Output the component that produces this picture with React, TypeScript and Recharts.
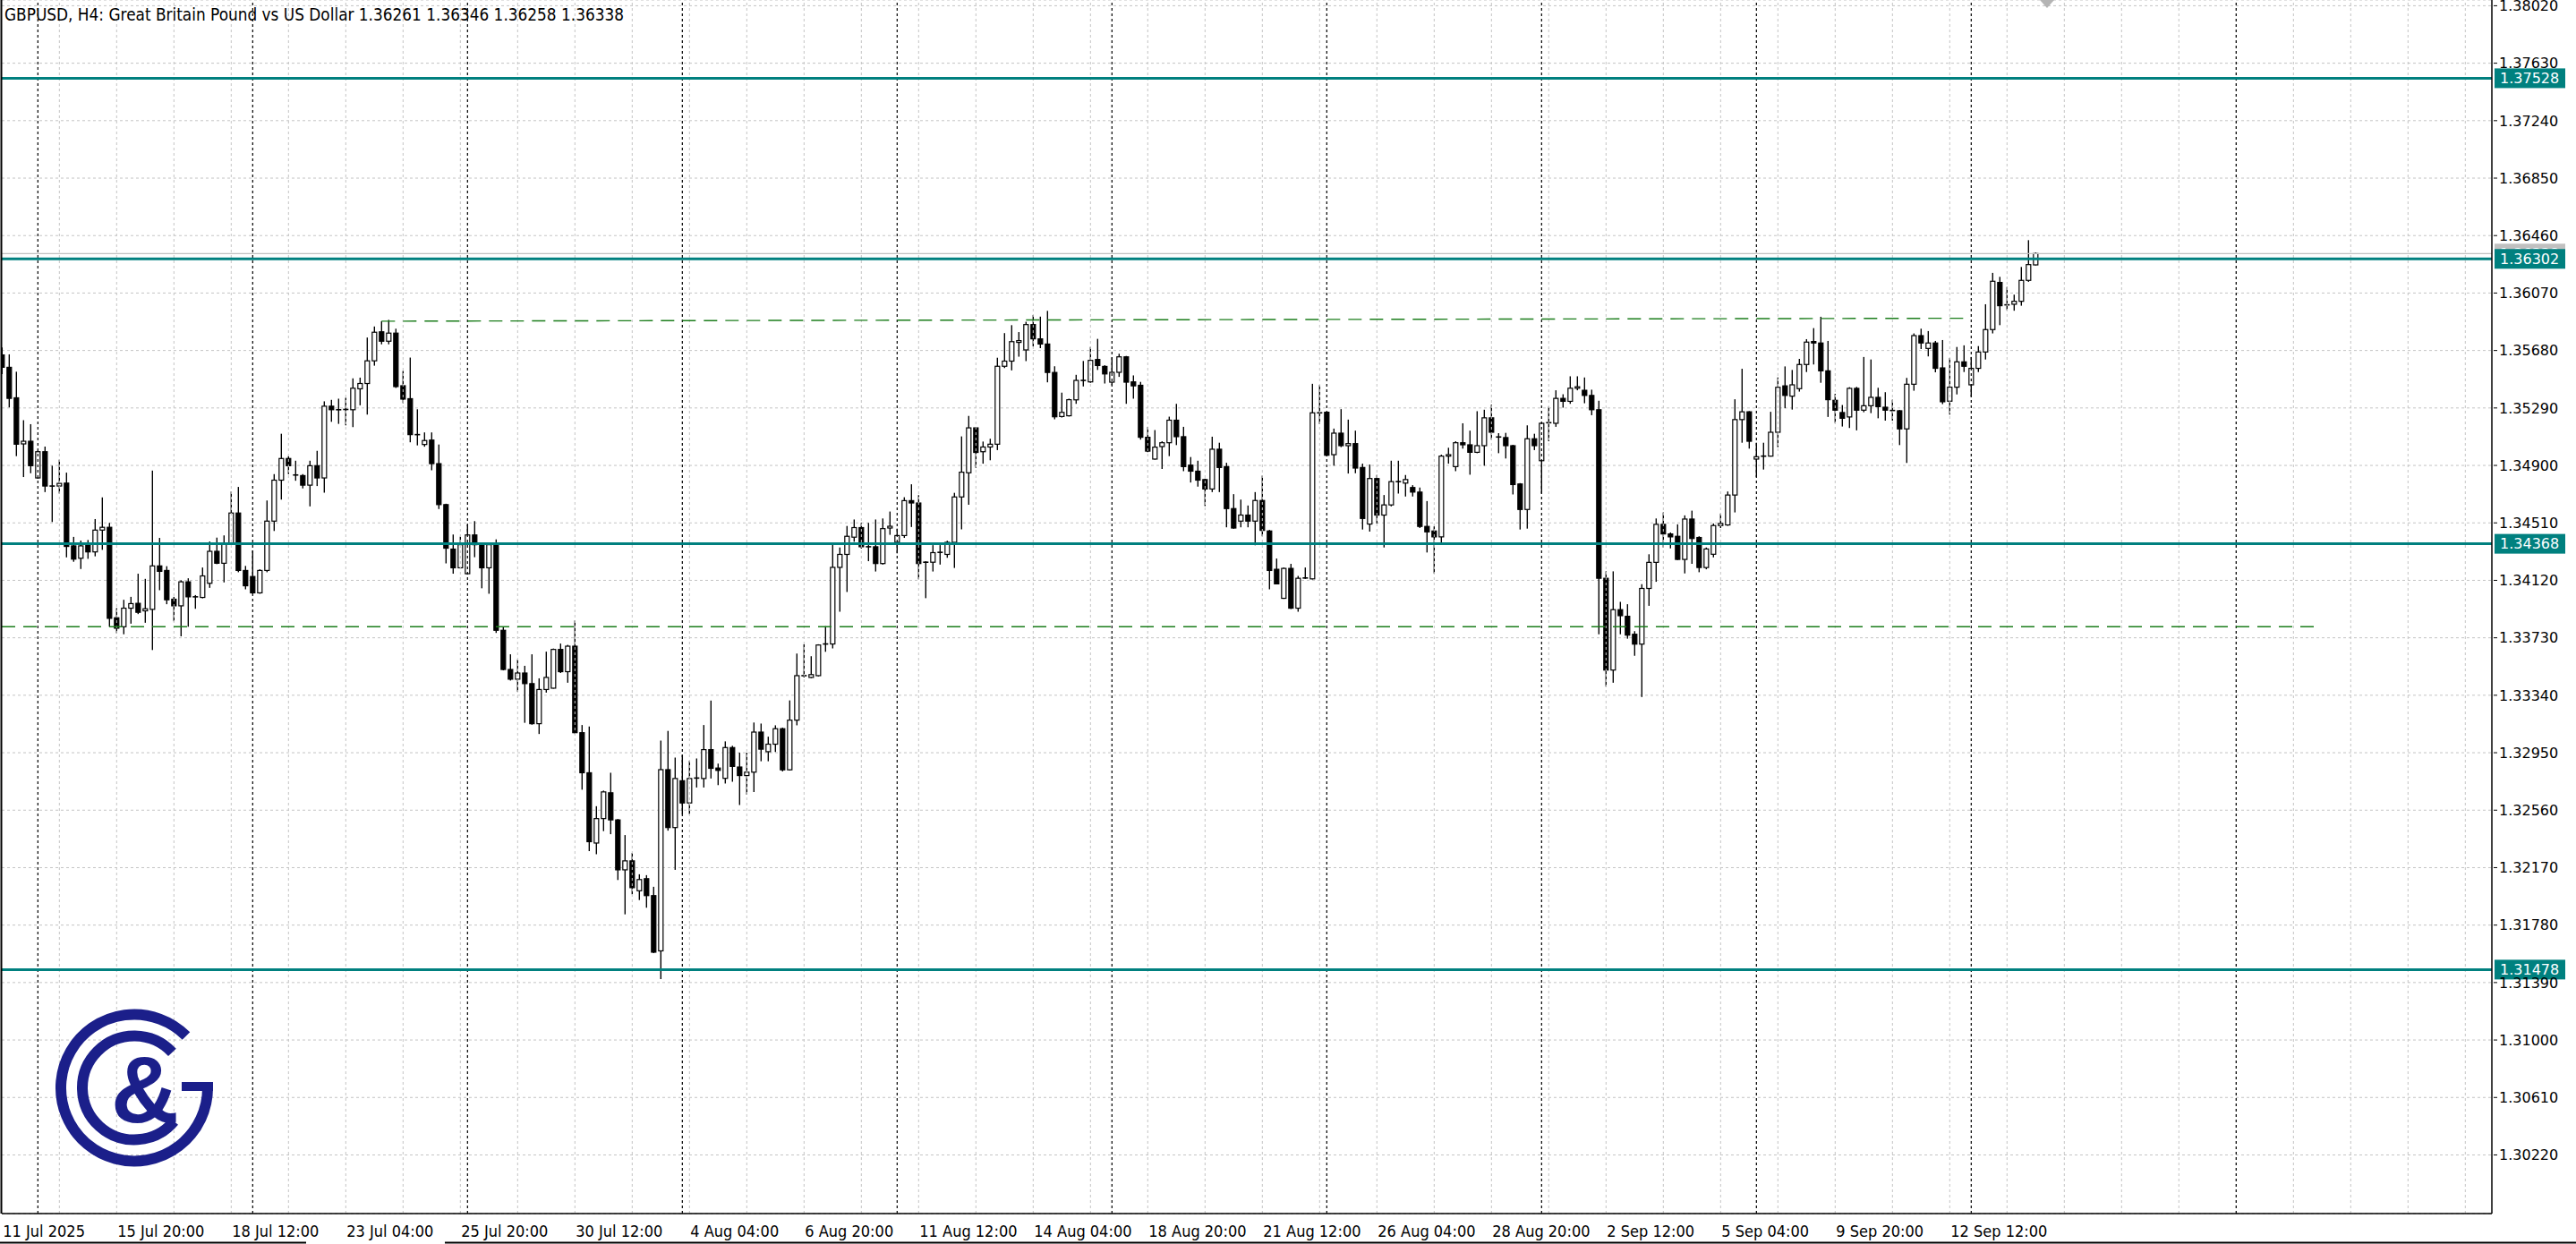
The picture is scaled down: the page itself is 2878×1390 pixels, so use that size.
import React from "react";
import { ComposedChart, Bar, XAxis, YAxis, CartesianGrid, ReferenceLine } from "recharts";

// GBPUSD H4, 11 Jul 2025 04:00 .. 16 Sep 2025 00:00
const OPEN = [
  1.35650, 1.35566, 1.35359, 1.35046, 1.35064, 1.34815, 1.34993, 1.34760, 1.34760, 1.34780,
  1.34354, 1.34270, 1.34362, 1.34313, 1.34461, 1.34480, 1.33866, 1.33805, 1.33931, 1.33964,
  1.33913, 1.33923, 1.34218, 1.34187, 1.33992, 1.33947, 1.34110, 1.34008, 1.34004, 1.34100,
  1.34317, 1.34236, 1.34364, 1.34577, 1.34187, 1.34146, 1.34035, 1.34187, 1.34522, 1.34800,
  1.34947, 1.34835, 1.34831, 1.34766, 1.34898, 1.34815, 1.35302, 1.35278, 1.35276, 1.35278,
  1.35420, 1.35456, 1.35610, 1.35807, 1.35743, 1.35798, 1.35441, 1.35353, 1.35109, 1.35042,
  1.35072, 1.34912, 1.34634, 1.34332, 1.34205, 1.34165, 1.34428, 1.34362, 1.34205, 1.34368,
  1.33781, 1.33515, 1.33449, 1.33491, 1.33419, 1.33147, 1.33379, 1.33388, 1.33651, 1.33500,
  1.33673, 1.33086, 1.32814, 1.32337, 1.32503, 1.32678, 1.32494, 1.32155, 1.32216, 1.32013,
  1.32095, 1.31980, 1.31605, 1.32835, 1.32442, 1.32760, 1.32609, 1.32775, 1.32775, 1.32971,
  1.32846, 1.32776, 1.32985, 1.32853, 1.32795, 1.32818, 1.33090, 1.32957, 1.33008, 1.33113,
  1.32834, 1.33171, 1.33473, 1.33461, 1.33473, 1.33681, 1.33688, 1.34208, 1.34296, 1.34413,
  1.34478, 1.34348, 1.34348, 1.34234, 1.34475, 1.34378, 1.34424, 1.34661, 1.34645, 1.34234,
  1.34243, 1.34308, 1.34296, 1.34378, 1.34686, 1.34850, 1.35155, 1.34993, 1.35025, 1.35044,
  1.35573, 1.35608, 1.35735, 1.35684, 1.35856, 1.35759, 1.35724, 1.35531, 1.35232, 1.35237,
  1.35345, 1.35477, 1.35467, 1.35619, 1.35572, 1.35465, 1.35532, 1.35637, 1.35467, 1.35444,
  1.35091, 1.34943, 1.35028, 1.35054, 1.35207, 1.35095, 1.34902, 1.34861, 1.34804, 1.34740,
  1.35010, 1.34892, 1.34607, 1.34522, 1.34563, 1.34522, 1.34662, 1.34455, 1.34195, 1.33998,
  1.34201, 1.33931, 1.34134, 1.34130, 1.35257, 1.35261, 1.34973, 1.35119, 1.35034, 1.35048,
  1.34886, 1.34502, 1.34811, 1.34563, 1.34632, 1.34790, 1.34780, 1.34750, 1.34719, 1.34486,
  1.34455, 1.34415, 1.34963, 1.34892, 1.35054, 1.35040, 1.34989, 1.35034, 1.35223, 1.35093,
  1.35089, 1.35034, 1.34774, 1.34601, 1.35081, 1.34932, 1.35186, 1.35186, 1.35355, 1.35335,
  1.35424, 1.35410, 1.35375, 1.35278, 1.34134, 1.33511, 1.33921, 1.33876, 1.33754, 1.33687,
  1.34065, 1.34242, 1.34500, 1.34435, 1.34419, 1.34262, 1.34536, 1.34411, 1.34207, 1.34297,
  1.34492, 1.34496, 1.34699, 1.35211, 1.35264, 1.34943, 1.34959, 1.34963, 1.35125, 1.35440,
  1.35370, 1.35421, 1.35585, 1.35741, 1.35731, 1.35542, 1.35342, 1.35259, 1.35229, 1.35423,
  1.35275, 1.35305, 1.35362, 1.35295, 1.35273, 1.35271, 1.35148, 1.35451, 1.35781, 1.35694,
  1.35731, 1.35562, 1.35336, 1.35431, 1.35603, 1.35447, 1.35559, 1.35670, 1.35822, 1.36142,
  1.35990, 1.35994, 1.36014, 1.36156, 1.36261,
];
const HIGH = [
  1.35700, 1.35654, 1.35536, 1.35207, 1.35180, 1.35000, 1.35028, 1.34898, 1.34939, 1.34851,
  1.34415, 1.34390, 1.34394, 1.34536, 1.34683, 1.34510, 1.33931, 1.33988, 1.34008, 1.34165,
  1.34130, 1.34865, 1.34408, 1.34216, 1.34008, 1.34120, 1.34134, 1.34020, 1.34207, 1.34384,
  1.34410, 1.34425, 1.34723, 1.34754, 1.34218, 1.34323, 1.34195, 1.34662, 1.34841, 1.35115,
  1.34963, 1.34932, 1.34841, 1.34932, 1.34999, 1.35335, 1.35345, 1.35353, 1.35359, 1.35491,
  1.35496, 1.35768, 1.35843, 1.35879, 1.35888, 1.35828, 1.35541, 1.35632, 1.35281, 1.35124,
  1.35124, 1.35042, 1.34640, 1.34431, 1.34416, 1.34498, 1.34522, 1.34377, 1.34377, 1.34398,
  1.33803, 1.33618, 1.33582, 1.33540, 1.33618, 1.33455, 1.33636, 1.33657, 1.33691, 1.33682,
  1.33848, 1.33138, 1.33128, 1.32587, 1.32693, 1.32814, 1.32500, 1.32391, 1.32270, 1.32125,
  1.32119, 1.32040, 1.33032, 1.33098, 1.32917, 1.32935, 1.32896, 1.32911, 1.33138, 1.33304,
  1.32876, 1.33027, 1.32997, 1.32950, 1.32950, 1.33155, 1.33148, 1.33059, 1.33136, 1.33120,
  1.33305, 1.33623, 1.33686, 1.33605, 1.33686, 1.33809, 1.34366, 1.34343, 1.34489, 1.34533,
  1.34510, 1.34510, 1.34533, 1.34540, 1.34587, 1.34471, 1.34684, 1.34772, 1.34698, 1.34250,
  1.34359, 1.34359, 1.34389, 1.34714, 1.35097, 1.35236, 1.35160, 1.35062, 1.35081, 1.35631,
  1.35798, 1.35852, 1.35805, 1.35875, 1.35921, 1.35910, 1.35949, 1.35573, 1.35394, 1.35353,
  1.35515, 1.35609, 1.35704, 1.35759, 1.35580, 1.35633, 1.35658, 1.35643, 1.35511, 1.35467,
  1.35162, 1.35140, 1.35064, 1.35231, 1.35318, 1.35162, 1.34957, 1.34932, 1.34810, 1.35095,
  1.35054, 1.34918, 1.34705, 1.34668, 1.34628, 1.34719, 1.34831, 1.34462, 1.34268, 1.34207,
  1.34232, 1.34150, 1.34207, 1.35454, 1.35446, 1.35265, 1.35150, 1.35282, 1.35211, 1.35136,
  1.34912, 1.34906, 1.34835, 1.34699, 1.34932, 1.34932, 1.34835, 1.34766, 1.34750, 1.34658,
  1.34486, 1.34973, 1.35020, 1.35064, 1.35186, 1.35136, 1.35268, 1.35278, 1.35312, 1.35119,
  1.35121, 1.35040, 1.34780, 1.35172, 1.35115, 1.35190, 1.35298, 1.35410, 1.35383, 1.35505,
  1.35505, 1.35497, 1.35414, 1.35339, 1.34181, 1.34181, 1.33974, 1.33958, 1.33775, 1.34094,
  1.34297, 1.34540, 1.34581, 1.34445, 1.34500, 1.34561, 1.34593, 1.34419, 1.34343, 1.34506,
  1.34573, 1.34723, 1.35349, 1.35556, 1.35268, 1.35054, 1.35054, 1.35264, 1.35497, 1.35572,
  1.35548, 1.35623, 1.35757, 1.35832, 1.35909, 1.35745, 1.35386, 1.35310, 1.35431, 1.35433,
  1.35636, 1.35619, 1.35427, 1.35397, 1.35346, 1.35276, 1.35494, 1.35796, 1.35828, 1.35812,
  1.35745, 1.35751, 1.35629, 1.35704, 1.35715, 1.35636, 1.35710, 1.35994, 1.36207, 1.36180,
  1.36111, 1.36059, 1.36247, 1.36429, 1.36346,
];
const LOW = [
  1.35520, 1.35294, 1.34963, 1.34821, 1.34847, 1.34810, 1.34719, 1.34516, 1.34709, 1.34276,
  1.34246, 1.34197, 1.34266, 1.34283, 1.34327, 1.33805, 1.33761, 1.33754, 1.33826, 1.33891,
  1.33832, 1.33647, 1.34053, 1.33958, 1.33842, 1.33740, 1.33805, 1.33927, 1.33998, 1.34069,
  1.34230, 1.34106, 1.34360, 1.34175, 1.34059, 1.34029, 1.34029, 1.34175, 1.34455, 1.34668,
  1.34841, 1.34796, 1.34744, 1.34622, 1.34760, 1.34715, 1.35196, 1.35182, 1.35172, 1.35160,
  1.35308, 1.35245, 1.35577, 1.35722, 1.35722, 1.35426, 1.35323, 1.35057, 1.35036, 1.35027,
  1.34867, 1.34604, 1.34235, 1.34165, 1.34202, 1.34160, 1.34277, 1.34066, 1.34029, 1.33763,
  1.33509, 1.33440, 1.33364, 1.33153, 1.33140, 1.33077, 1.33358, 1.33385, 1.33491, 1.33425,
  1.33077, 1.32699, 1.32282, 1.32261, 1.32418, 1.32397, 1.32086, 1.31853, 1.31989, 1.31950,
  1.31898, 1.31590, 1.31414, 1.32421, 1.32155, 1.32533, 1.32533, 1.32714, 1.32714, 1.32775,
  1.32730, 1.32741, 1.32753, 1.32595, 1.32665, 1.32683, 1.32892, 1.32892, 1.32955, 1.32823,
  1.32830, 1.33136, 1.33461, 1.33456, 1.33468, 1.33635, 1.33658, 1.33907, 1.34041, 1.34382,
  1.34336, 1.34250, 1.34180, 1.34227, 1.34429, 1.34303, 1.34408, 1.34482, 1.34127, 1.33999,
  1.34180, 1.34227, 1.34273, 1.34204, 1.34466, 1.34633, 1.34884, 1.34912, 1.34935, 1.35004,
  1.35561, 1.35545, 1.35638, 1.35608, 1.35708, 1.35696, 1.35464, 1.35213, 1.35225, 1.35232,
  1.35318, 1.35436, 1.35461, 1.35548, 1.35456, 1.35444, 1.35501, 1.35318, 1.35353, 1.35075,
  1.34990, 1.34939, 1.34876, 1.34963, 1.35038, 1.34861, 1.34784, 1.34756, 1.34624, 1.34719,
  1.34719, 1.34480, 1.34470, 1.34480, 1.34480, 1.34358, 1.34419, 1.34059, 1.34094, 1.33994,
  1.33925, 1.33907, 1.34130, 1.34126, 1.35180, 1.34963, 1.34898, 1.35024, 1.34845, 1.34847,
  1.34465, 1.34451, 1.34506, 1.34343, 1.34622, 1.34709, 1.34689, 1.34689, 1.34475, 1.34309,
  1.34167, 1.34378, 1.34912, 1.34861, 1.35014, 1.34837, 1.34983, 1.34898, 1.35075, 1.34983,
  1.34947, 1.34703, 1.34465, 1.34471, 1.35004, 1.34709, 1.35064, 1.35162, 1.35292, 1.35318,
  1.35410, 1.35322, 1.35241, 1.33754, 1.33399, 1.33425, 1.33754, 1.33724, 1.33608, 1.33328,
  1.33947, 1.34110, 1.34343, 1.34337, 1.34258, 1.34167, 1.34232, 1.34175, 1.34195, 1.34276,
  1.34475, 1.34490, 1.34581, 1.35054, 1.35014, 1.34821, 1.34872, 1.34960, 1.35024, 1.35288,
  1.35279, 1.35401, 1.35534, 1.35585, 1.35461, 1.35229, 1.35188, 1.35164, 1.35154, 1.35138,
  1.35261, 1.35255, 1.35220, 1.35204, 1.35204, 1.35038, 1.34917, 1.35407, 1.35690, 1.35640,
  1.35532, 1.35316, 1.35245, 1.35382, 1.35534, 1.35366, 1.35534, 1.35619, 1.35796, 1.35852,
  1.35954, 1.35950, 1.35984, 1.36146, 1.36258,
];
const CLOSE = [
  1.35566, 1.35355, 1.35044, 1.35064, 1.34898, 1.34993, 1.34760, 1.34758, 1.34778, 1.34350,
  1.34264, 1.34354, 1.34313, 1.34461, 1.34480, 1.33862, 1.33795, 1.33931, 1.33962, 1.33903,
  1.33927, 1.34218, 1.34181, 1.33988, 1.33947, 1.34110, 1.34008, 1.34004, 1.34150, 1.34317,
  1.34236, 1.34364, 1.34577, 1.34187, 1.34083, 1.34035, 1.34187, 1.34522, 1.34800, 1.34947,
  1.34898, 1.34829, 1.34766, 1.34898, 1.34815, 1.35302, 1.35278, 1.35276, 1.35280, 1.35424,
  1.35456, 1.35610, 1.35804, 1.35743, 1.35798, 1.35435, 1.35350, 1.35109, 1.35106, 1.35069,
  1.34912, 1.34634, 1.34338, 1.34205, 1.34362, 1.34428, 1.34362, 1.34205, 1.34362, 1.33781,
  1.33515, 1.33449, 1.33491, 1.33419, 1.33147, 1.33379, 1.33461, 1.33651, 1.33500, 1.33673,
  1.33086, 1.32814, 1.32346, 1.32503, 1.32684, 1.32494, 1.32155, 1.32216, 1.32034, 1.32089,
  1.31980, 1.31596, 1.32835, 1.32442, 1.32775, 1.32609, 1.32775, 1.32778, 1.32971, 1.32844,
  1.32830, 1.32985, 1.32857, 1.32795, 1.32818, 1.33090, 1.32974, 1.33008, 1.33113, 1.32834,
  1.33171, 1.33473, 1.33468, 1.33480, 1.33681, 1.33688, 1.34208, 1.34296, 1.34419, 1.34478,
  1.34348, 1.34345, 1.34234, 1.34471, 1.34487, 1.34424, 1.34661, 1.34645, 1.34234, 1.34243,
  1.34308, 1.34310, 1.34378, 1.34686, 1.34854, 1.35155, 1.34988, 1.35025, 1.35044, 1.35573,
  1.35608, 1.35740, 1.35747, 1.35856, 1.35759, 1.35724, 1.35531, 1.35230, 1.35260, 1.35346,
  1.35477, 1.35473, 1.35613, 1.35578, 1.35521, 1.35532, 1.35637, 1.35465, 1.35440, 1.35091,
  1.34997, 1.35024, 1.35054, 1.35207, 1.35095, 1.34892, 1.34861, 1.34800, 1.34740, 1.35010,
  1.34886, 1.34607, 1.34475, 1.34563, 1.34522, 1.34662, 1.34459, 1.34187, 1.34096, 1.34201,
  1.33931, 1.34134, 1.34136, 1.35257, 1.35253, 1.34969, 1.35119, 1.35034, 1.35048, 1.34882,
  1.34540, 1.34811, 1.34563, 1.34632, 1.34790, 1.34784, 1.34804, 1.34719, 1.34486, 1.34449,
  1.34415, 1.34963, 1.34973, 1.35054, 1.35040, 1.34989, 1.35034, 1.35223, 1.35125, 1.35091,
  1.35034, 1.34770, 1.34601, 1.35081, 1.35034, 1.35186, 1.35190, 1.35355, 1.35335, 1.35424,
  1.35434, 1.35375, 1.35278, 1.34134, 1.33511, 1.33921, 1.33880, 1.33748, 1.33687, 1.34065,
  1.34242, 1.34500, 1.34435, 1.34415, 1.34262, 1.34536, 1.34404, 1.34207, 1.34333, 1.34492,
  1.34506, 1.34699, 1.35211, 1.35264, 1.35064, 1.34959, 1.34963, 1.35125, 1.35430, 1.35375,
  1.35447, 1.35585, 1.35737, 1.35731, 1.35542, 1.35346, 1.35275, 1.35220, 1.35423, 1.35275,
  1.35305, 1.35362, 1.35299, 1.35275, 1.35271, 1.35148, 1.35451, 1.35781, 1.35731, 1.35731,
  1.35559, 1.35332, 1.35431, 1.35603, 1.35573, 1.35559, 1.35670, 1.35822, 1.36150, 1.35984,
  1.35988, 1.36014, 1.36156, 1.36263, 1.36338,
];

// time scale labels, one every 16 bars
const TIME_LABELS = [
  "11 Jul 2025", "15 Jul 20:00", "18 Jul 12:00", "23 Jul 04:00", "25 Jul 20:00", "30 Jul 12:00",
  "4 Aug 04:00", "6 Aug 20:00", "11 Aug 12:00", "14 Aug 04:00", "18 Aug 20:00", "21 Aug 12:00",
  "26 Aug 04:00", "28 Aug 20:00", "2 Sep 12:00", "5 Sep 04:00", "9 Sep 20:00", "12 Sep 12:00",
];
const LABEL_BARS = TIME_LABELS.map((_, k) => k * 16);

const PRICE_TICKS = [
  1.3022, 1.3061, 1.31, 1.3139, 1.3178, 1.3217, 1.3256, 1.3295, 1.3334, 1.3373, 1.3412,
  1.3451, 1.349, 1.3529, 1.3568, 1.3607, 1.3646, 1.3685, 1.3724, 1.3763, 1.3802,
];

// horizontal levels drawn on the chart
const LEVELS = [1.37528, 1.36302, 1.34368, 1.31478];
const BID = 1.36338;
const UPPER_TREND = [{ x: 53, y: 1.35879 }, { x: 274, y: 1.35899 }];
const LOWER_TREND = [{ x: -0.04, y: 1.33805 }, { x: 323.5, y: 1.33805 }];
// Monday 00:00 bars (weekly separators) + a vertical marker in the empty space
const WEEK_STARTS = [5, 35, 65, 95, 125, 155, 185, 215, 245, 275];
const V_MARKERS = [312];

const X_DOMAIN: [number, number] = [-0.04, 347.71];
const Y_DOMAIN: [number, number] = [1.29822, 1.38059];
const TEAL = "#00807f";
const GRID = "#c4c4c4";
const W = 2878;
const H = 1390;

const data = OPEN.map((open, i) => ({
  i,
  open,
  high: HIGH[i],
  low: LOW[i],
  close: CLOSE[i],
  range: [LOW[i], HIGH[i]],
}));

const gridBars = Array.from({ length: 43 }, (_, k) => (k + 1) * 8);

function Candle(props: any) {
  const { x, y, width, height, payload } = props;
  if (!payload || height == null || isNaN(height)) return null;
  const { open, high, low, close } = payload;
  const k = height / (high - low);
  const py = (v: number) => y + (high - v) * k;
  const cx = x + width / 2;
  const top = py(Math.max(open, close));
  const bot = py(Math.min(open, close));
  const up = close >= open;
  const bw = 5;
  return (
    <g>
      <line x1={cx} x2={cx} y1={y} y2={y + height} stroke="#000" strokeWidth={1.4} />
      {bot - top < 1.5 ? (
        <line x1={cx - bw / 2 - 0.5} x2={cx + bw / 2 + 0.5} y1={top} y2={top} stroke="#000" strokeWidth={1.6} />
      ) : (
        <rect x={cx - bw / 2} y={top} width={bw} height={bot - top} fill={up ? "#fff" : "#000"} stroke="#000" strokeWidth={1.2} />
      )}
    </g>
  );
}

const XTick = (props: any) => {
  const { x, y, payload } = props;
  const idx = LABEL_BARS.indexOf(payload.value);
  return (
    <text x={x + 1} y={y + 24} fontSize={18} fontFamily="'Liberation Sans Narrow', 'DejaVu Sans Condensed', sans-serif" fill="#000">
      {TIME_LABELS[idx]}
    </text>
  );
};

const YTick = (props: any) => {
  const { x, y, payload } = props;
  return (
    <g>
      <line x1={x} x2={x + 4} y1={y} y2={y} stroke="#000" />
      <text x={x + 6} y={y} dy="0.36em" fontSize={16} fontFamily="'DejaVu Sans', sans-serif" fill="#000">
        {Number(payload.value).toFixed(5)}
      </text>
    </g>
  );
};

const levelLabel = (value: number, bg: string) => (props: any) => {
  const vb = props.viewBox || {};
  const xr = (vb.x ?? 0) + (vb.width ?? 0);
  const y = vb.y ?? 0;
  return (
    <g>
      <rect x={xr + 3} y={y - 11} width={79} height={22} fill={bg} />
      <text x={xr + 9} y={y} dy="0.36em" fontSize={16} fontFamily="'DejaVu Sans', sans-serif" fill="#fff">
        {value.toFixed(5)}
      </text>
    </g>
  );
};

function Logo() {
  const c = "#1b1f8a";
  return (
    <g>
      <path d="M 232 1215.5 A 82 82 0 1 1 208 1157.5" fill="none" stroke={c} strokeWidth={12} />
      <rect x={203} y={1209} width={35} height={10} fill={c} />
      <path d="M 192.4 1175.9 A 58 58 0 1 0 194.4 1252.8" fill="none" stroke={c} strokeWidth={12} />
      <text x={162} y={1254} textAnchor="middle" fontSize={105} fontWeight="bold" fontFamily="'Liberation Sans', sans-serif" fill={c}>
        &amp;
      </text>
    </g>
  );
}

export default function App() {
  return (
    <div style={{ position: "absolute", left: 0, top: 0, width: W, height: H, background: "#fff" }}>
      <ComposedChart width={W} height={H} data={data} margin={{ top: 0, right: 0, bottom: 0, left: 2 }}>
        <CartesianGrid vertical={false} stroke={GRID} strokeDasharray="3 3" />
        <XAxis
          dataKey="i"
          type="number"
          domain={X_DOMAIN}
          allowDataOverflow
          ticks={LABEL_BARS}
          interval={0}
          height={34}
          tickLine={false}
          tickSize={0}
          tick={<XTick />}
          axisLine={{ stroke: "#000", strokeWidth: 1.5 }}
        />
        <YAxis
          orientation="right"
          type="number"
          domain={Y_DOMAIN}
          allowDataOverflow
          ticks={PRICE_TICKS}
          interval={0}
          width={94}
          tickLine={false}
          tickSize={0}
          tick={<YTick />}
          axisLine={{ stroke: "#000", strokeWidth: 1.5 }}
        />
        {gridBars.map((b) => (
          <ReferenceLine key={"g" + b} x={b} stroke={GRID} strokeDasharray="3 3" />
        ))}
        {WEEK_STARTS.concat(V_MARKERS).map((b) => (
          <ReferenceLine key={"w" + b} x={b} stroke="#000" strokeDasharray="3 3" strokeWidth={1.2} />
        ))}
        <Bar dataKey="range" barSize={6} shape={<Candle />} isAnimationActive={false} />
        <ReferenceLine segment={UPPER_TREND} stroke="#1b7d1b" strokeWidth={1.4} strokeDasharray="15 9" />
        <ReferenceLine segment={LOWER_TREND} stroke="#1b7d1b" strokeWidth={1.4} strokeDasharray="15 9" />
        <ReferenceLine y={BID} stroke="#c0c0c0" strokeWidth={1.2} label={levelLabel(BID, "#c0c0c0")} />
        {LEVELS.map((v) => (
          <ReferenceLine key={"l" + v} y={v} stroke={TEAL} strokeWidth={3} label={levelLabel(v, TEAL)} />
        ))}
      </ComposedChart>
      <svg width={W} height={H} style={{ position: "absolute", left: 0, top: 0, pointerEvents: "none" }}>
        <line x1={1.5} x2={1.5} y1={0} y2={1356} stroke="#000" strokeWidth={2} />
        <polygon points="2279,0 2295,0 2287,9" fill="#b4b4b4" />
        <text x={5} y={23} fontSize={19} fontFamily="'DejaVu Sans', sans-serif" fill="#000" textLength={692} lengthAdjust="spacingAndGlyphs">
          GBPUSD, H4:  Great Britain Pound vs US Dollar  1.36261 1.36346 1.36258 1.36338
        </text>
        <Logo />
        <line x1={0} x2={342} y1={1388.5} y2={1388.5} stroke="#000" strokeWidth={2} />
        <line x1={497} x2={W} y1={1388.5} y2={1388.5} stroke="#000" strokeWidth={2} />
      </svg>
    </div>
  );
}
